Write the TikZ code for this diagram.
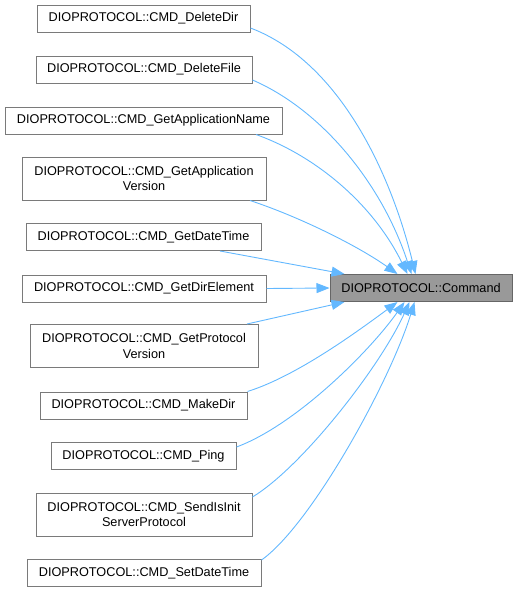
\documentclass[tikz,border=0pt]{standalone}
\usepackage{fontspec}
\setmainfont{Liberation Sans}
\usetikzlibrary{arrows.meta,calc}
\definecolor{edgeblue}{HTML}{63B8FF}
\definecolor{boxborder}{HTML}{7A7A7A}
\definecolor{focusfill}{HTML}{999999}
\definecolor{focusborder}{HTML}{666666}
\begin{document}
\begin{tikzpicture}[x=1pt,y=-1pt,
  fnbox/.style={draw=boxborder,line width=1pt,fill=white,inner sep=0pt,align=center,
    font=\fontsize{12.7}{15.3}\selectfont},
  focusbox/.style={fnbox,draw=focusborder,fill=focusfill},
  calledge/.style={draw=edgeblue,line width=0.9pt,-{Triangle[length=13pt,width=10pt]}}]
\useasboundingbox (0,0) rectangle (517,592);
% nodes: center x, center y, width, height
\node[fnbox,minimum width=213pt,minimum height=27pt] (n1) at (143.5,18.5) {DIOPROTOCOL::CMD\_DeleteDir};
\node[fnbox,minimum width=216pt,minimum height=27pt] (n2) at (144,69.5) {DIOPROTOCOL::CMD\_DeleteFile};
\node[fnbox,minimum width=277pt,minimum height=27pt] (n3) at (143.5,120.5) {DIOPROTOCOL::CMD\_GetApplicationName};
\node[fnbox,minimum width=244pt,minimum height=43pt] (n4) at (144,178.5) {DIOPROTOCOL::CMD\_GetApplication\\Version};
\node[fnbox,minimum width=235pt,minimum height=27pt] (n5) at (143.5,237) {DIOPROTOCOL::CMD\_GetDateTime};
\node[fnbox,minimum width=244pt,minimum height=27pt] (n6) at (144,288.5) {DIOPROTOCOL::CMD\_GetDirElement};
\node[fnbox,minimum width=228pt,minimum height=43pt] (n7) at (144,346) {DIOPROTOCOL::CMD\_GetProtocol\\Version};
\node[fnbox,minimum width=207pt,minimum height=27pt] (n8) at (143.5,405.5) {DIOPROTOCOL::CMD\_MakeDir};
\node[fnbox,minimum width=185pt,minimum height=27pt] (n9) at (143.5,456) {DIOPROTOCOL::CMD\_Ping};
\node[fnbox,minimum width=216pt,minimum height=43pt] (n10) at (144,514.5) {DIOPROTOCOL::CMD\_SendIsInit\\ServerProtocol};
\node[fnbox,minimum width=234pt,minimum height=27pt] (n11) at (144,573) {DIOPROTOCOL::CMD\_SetDateTime};
\node[focusbox,minimum width=182pt,minimum height=27pt] (cmd) at (421,288) {DIOPROTOCOL::Command};
% connectors
\draw[calledge] ($(n1.east)+(0,9.5)$) .. controls (340,62) and (391,174) .. ($(cmd.north west)+(86,0)$);
\draw[calledge] ($(n2.east)+(0,10.5)$) .. controls (322,110) and (382,184) .. ($(cmd.north west)+(82,0)$);
\draw[calledge] ($(n3.south)+(112.5,0)$) .. controls (316,156) and (373,204) .. ($(cmd.north west)+(78,0)$);
\draw[calledge] ($(n4.south)+(106,0)$) .. controls (300,217) and (358,246) .. ($(cmd.north west)+(68,0)$);
\draw[calledge] ($(n5.south)+(76.5,0)$) -- ($(cmd.north west)+(15,0)$);
\draw[calledge] (n6.east) -- (cmd.west);
\draw[calledge] ($(n7.north)+(103,0)$) -- ($(cmd.south west)+(15,0)$);
\draw[calledge] ($(n8.east)+(0,-14)$) .. controls (297,376) and (358,331) .. ($(cmd.south west)+(68,0)$);
\draw[calledge] ($(n9.east)+(0,-9)$) .. controls (296,425) and (370,351) .. ($(cmd.south west)+(75,0)$);
\draw[calledge] ($(n10.east)+(0,-17.5)$) .. controls (302,467) and (380,367) .. ($(cmd.south west)+(80,0)$);
\draw[calledge] ($(n11.east)+(0,-13)$) .. controls (311,525) and (390,382) .. ($(cmd.south west)+(85,0)$);
\end{tikzpicture}
\end{document}
